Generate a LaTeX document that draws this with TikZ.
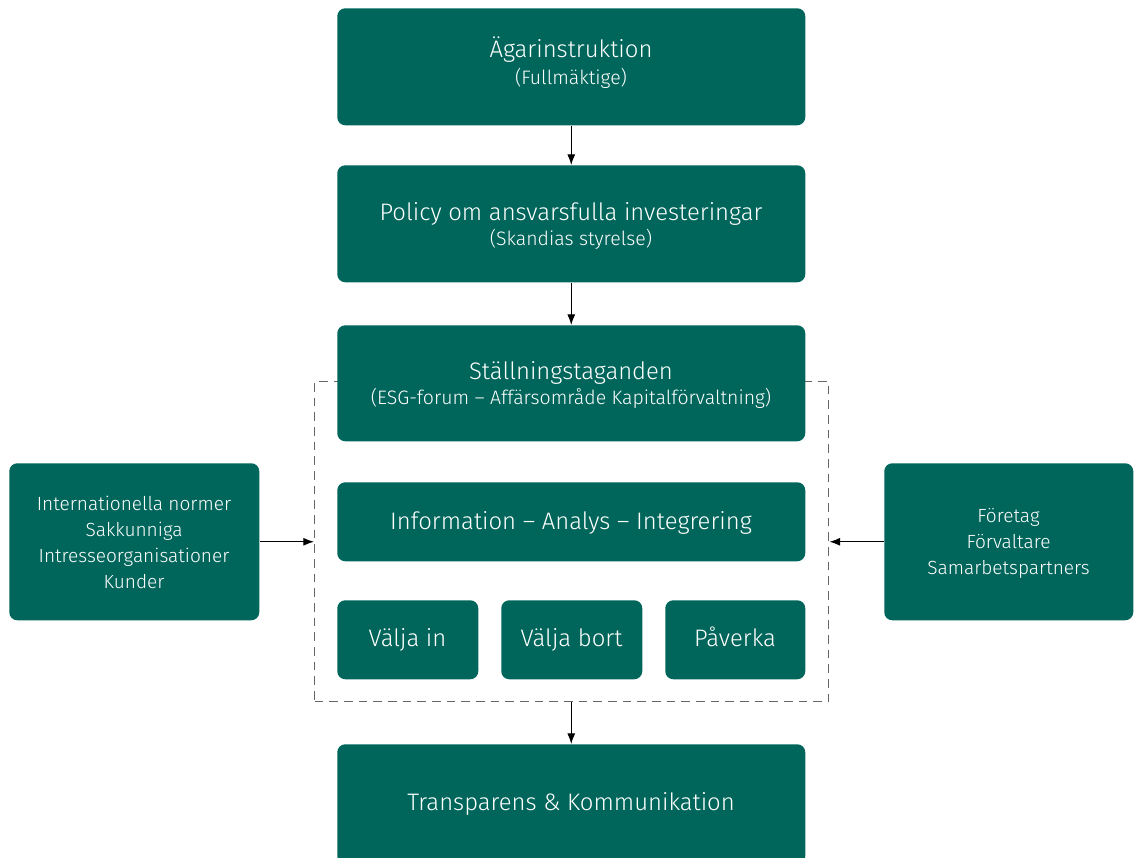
\documentclass[tikz,border=0pt]{standalone}
\usepackage{fontspec}
\setmainfont{Fira Sans}[UprightFont=* Light]
\usetikzlibrary{arrows.meta}
\definecolor{teal}{HTML}{00665B}
\definecolor{dgray}{HTML}{666666}
\tikzset{
  box/.style={fill=teal, rounded corners=6pt, inner sep=0pt, anchor=north west},
  txt/.style={text=white, inner sep=0pt, anchor=base},
  big/.style={txt, font=\fontsize{17.9}{21}\selectfont},
  small/.style={txt, font=\fontsize{14.6}{17}\selectfont},
  side/.style={txt, font=\fontsize{14.3}{17}\selectfont},
  conn/.style={-{Latex[length=8pt,width=6pt]}, line width=0.8pt, black},
  grp/.style={draw=dgray, dash pattern=on 6.5pt off 4.5pt, line width=1.1pt, anchor=north west, inner sep=0pt},
}
\begin{document}
\begin{tikzpicture}[x=0.75pt,y=-0.75pt]
\useasboundingbox (0,0) rectangle (1141,857);
\node[grp, minimum width=514*0.75pt, minimum height=320*0.75pt] (grp) at (314,381) {};
\node[box, minimum width=468*0.75pt, minimum height=117*0.75pt] (b1) at (337,8) {};
\node[box, minimum width=468*0.75pt, minimum height=117*0.75pt] (b2) at (337,165) {};
\node[box, minimum width=468*0.75pt, minimum height=116*0.75pt] (b3) at (337,325) {};
\node[box, minimum width=468*0.75pt, minimum height=79*0.75pt] (b4) at (337,482) {};
\node[box, minimum width=141*0.75pt, minimum height=79*0.75pt] (b5) at (337,600) {};
\node[box, minimum width=141*0.75pt, minimum height=79*0.75pt] (b6) at (501,600) {};
\node[box, minimum width=140*0.75pt, minimum height=79*0.75pt] (b7) at (665,600) {};
\node[box, minimum width=468*0.75pt, minimum height=120*0.75pt] (b8) at (337,744) {};
\node[box, minimum width=250*0.75pt, minimum height=157*0.75pt] (l) at (9,463) {};
\node[box, minimum width=249*0.75pt, minimum height=157*0.75pt] (r) at (884,463) {};
% texts
\node[big] (t1) at (571,57) {Ägarinstruktion};
\node[small] (s1) at (571,84) {(Fullmäktige)};
\node[big] (t2) at (571,220) {Policy om ansvarsfulla investeringar};
\node[small] (s2) at (571,245) {(Skandias styrelse)};
\node[big] (t3) at (571,379) {Ställningstaganden};
\node[small] (s3) at (571,404) {(ESG-forum – Affärsområde Kapitalförvaltning)};
\node[big] (t4) at (571,529) {Information – Analys – Integrering};
\node[big] (t5) at (407.5,646) {Välja in};
\node[big] (t6) at (571.5,646) {Välja bort};
\node[big] (t7) at (735,646) {Påverka};
\node[big] (t8) at (571,810) {Transparens \& Kommunikation};
\node[side] (l1) at (134,510) {Internationella normer};
\node[side] (l2) at (134,536) {Sakkunniga};
\node[side] (l3) at (134,562) {Intresseorganisationer};
\node[side] (l4) at (134,588) {Kunder};
\node[side] (r1) at (1008.5,522) {Företag};
\node[side] (r2) at (1008.5,548) {Förvaltare};
\node[side] (r3) at (1008.5,574) {Samarbetspartners};
% connectors
\draw[conn] (b1.south) -- (b2.north);
\draw[conn] (b2.south) -- (b3.north);
\draw[conn] (grp.south -| b8.north) -- (b8.north);
\draw[conn] (l.east) -- (l.east -| grp.west);
\draw[conn] (r.west) -- (r.west -| grp.east);
\end{tikzpicture}
\end{document}
